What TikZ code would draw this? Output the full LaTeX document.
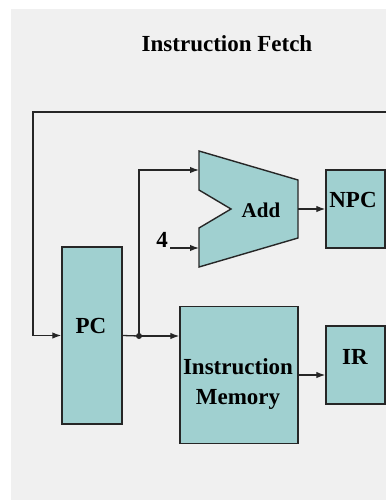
\documentclass[tikz,border=0pt]{standalone}
\usepackage{fontspec}
\setmainfont{Liberation Serif}
\usetikzlibrary{arrows.meta}
\definecolor{bgc}{HTML}{F0F0F0}
\definecolor{boxc}{HTML}{A0D0D0}
\begin{document}
\begin{tikzpicture}[x=1pt,y=-1pt,
  box/.style={draw=black!85, line width=1.4pt, fill=boxc, inner sep=0pt},
  lbl/.style={font=\fontsize{23}{30}\selectfont\bfseries, inner sep=0pt, align=center},
  wire/.style={draw=black!85, line width=1.3pt},
  arr/.style={wire, -{Latex[length=9pt,width=6.5pt]}}]
\useasboundingbox (0,0) rectangle (386,500);
\fill[white] (0,0) rectangle (386,500);
\fill[bgc] (11,9) rectangle (386,500);
\node[lbl] (title) at (227,44) {Instruction Fetch};
% boxes
\node[box, minimum width=60pt, minimum height=177pt] (pc) at (92,335.5) {};
\node[box, minimum width=118pt, minimum height=137pt] (im) at (239,375) {};
\node[box, minimum width=59pt, minimum height=78pt] (npc) at (355.5,209) {};
\node[box, minimum width=59pt, minimum height=78pt] (ir) at (355.5,365) {};
% adder
\filldraw[wire, line width=1.4pt, fill=boxc] (199,151) -- (298,180) -- (298,238) -- (199,267) -- (199,228) -- (231,209) -- (199,190) -- cycle;
\coordinate (addin1) at (199,170);
\coordinate (addin2) at (199,248);
\coordinate (addout) at (298,209);
% labels
\node[lbl] (pcl) at (91,326) {PC};
\node[lbl, font=\fontsize{21}{28}\selectfont\bfseries] (addl) at (261,210) {Add};
\node[lbl] (npcl) at (353,200) {NPC};
\node[lbl] (irl) at (355,357) {IR};
\node[lbl] (iml) at (238,384) {Instruction\\Memory};
\node[lbl] (four) at (162,240) {4};
% wires
\coordinate (j) at (139,336);
\coordinate (fbR) at (386,112);
\coordinate (fbL) at (33,112);
\coordinate (fourend) at (170,248);
\draw[wire] (pc.east) -- (j);
\fill[black!85] (j) circle (3pt);
\draw[arr] (j) -- (im.west |- j);
\draw[arr] (j) |- (addin1);
\draw[arr] (fbR) -- (fbL) |- (pc.west);
\draw[arr] (fourend) -- (addin2);
\draw[arr] (addout) -- (npc.west);
\draw[arr] (im.east) -- (im.east -| ir.west);
\end{tikzpicture}
\end{document}
